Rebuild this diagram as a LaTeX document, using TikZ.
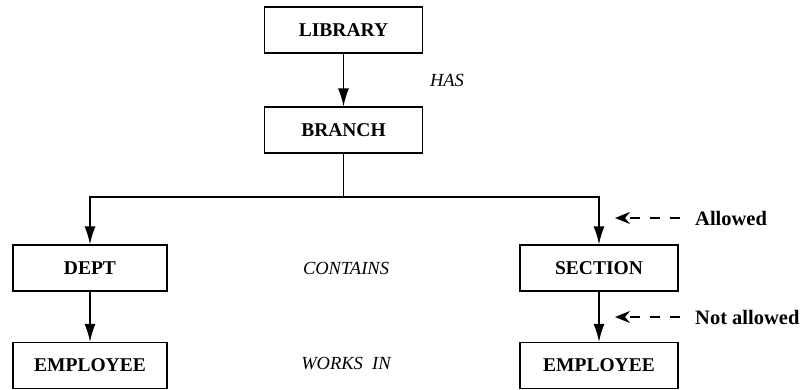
\documentclass[tikz,border=0pt]{standalone}
\usepackage{fontspec}
\setmainfont{Liberation Serif}
\usepackage{tikz}
\usetikzlibrary{arrows.meta}
\tikzset{
    entity-box/.style = {draw=black, fill=white, line width=1.2pt, rectangle, minimum width=158pt, minimum height=46pt, inner sep=0pt, font=\fontsize{19.5}{21}\selectfont\bfseries},
    rel-label/.style = {font=\fontsize{18.5}{20}\selectfont\itshape},
    note-label/.style = {anchor=west, inner sep=0pt, font=\fontsize{20.5}{22}\selectfont\bfseries},
    link-arrow/.style = {line width=1.5pt, -{Latex[length=18pt, width=11pt]}},
    note-arrow/.style = {line width=1.4pt, dash pattern=on 10pt off 10pt, -{Stealth[length=15pt, width=12pt, inset=5pt]}},
}
\begin{document}
\begin{tikzpicture}[x=1pt, y=-1pt]
\useasboundingbox (0,0) rectangle (802,390);
\node [entity-box] (library) at (343.5,30) {LIBRARY};
\node [entity-box] (branch) at (343.5,130) {BRANCH};
\node [entity-box, minimum width=154pt] (dept) at (90,268) {DEPT};
\node [entity-box] (section) at (599,268) {SECTION};
\node [entity-box, minimum width=154pt] (dept-employee) at (90,365.5) {EMPLOYEE};
\node [entity-box] (section-employee) at (599,365.5) {EMPLOYEE};
\node [rel-label] (has) at (447,80) {HAS};
\node [rel-label] (contains) at (346,268) {CONTAINS};
\node [rel-label] (works-in) at (346,364) {WORKS\ \ IN};
\coordinate (split) at (343.5,197);
\draw [link-arrow] (library) -- (branch);
\draw [line width=1.5pt] (branch) -- (split);
\draw [link-arrow] (split) -| (dept);
\draw [link-arrow] (split) -| (section);
\draw [link-arrow] (dept) -- (dept-employee);
\draw [link-arrow] (section) -- (section-employee);
% notes on the right
\node [note-label] (allowed) at (695,218) {Allowed};
\node [note-label] (not-allowed) at (695,317) {Not allowed};
\coordinate (allowed-tip) at (615,218);
\coordinate (not-allowed-tip) at (615,317);
\draw [note-arrow] ([xshift=-15pt]allowed.west) -- (allowed-tip);
\draw [note-arrow] ([xshift=-15pt]not-allowed.west) -- (not-allowed-tip);
\end{tikzpicture}
\end{document}
